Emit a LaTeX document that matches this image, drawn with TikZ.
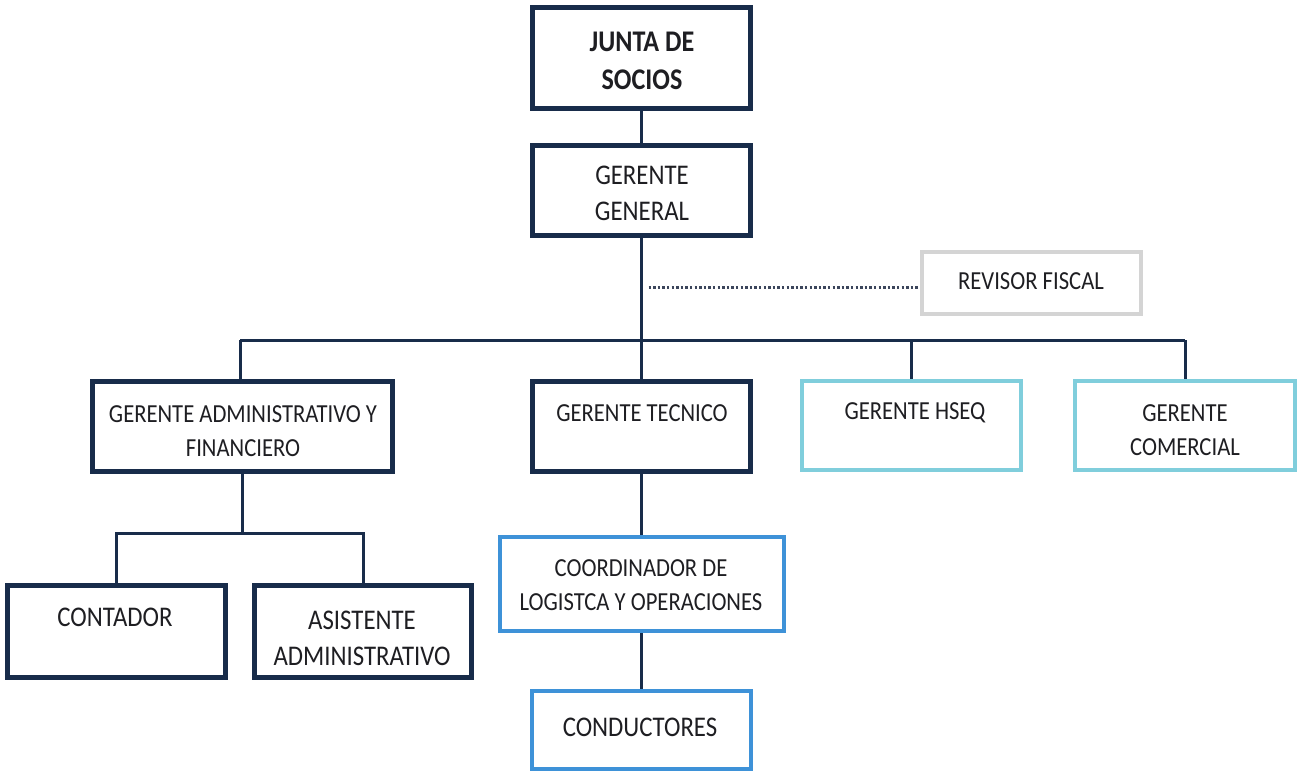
\documentclass[tikz,border=0pt]{standalone}
\usepackage{fontspec}
\setmainfont{Carlito}
\newfontfamily\lblfont{Carlito}[FakeStretch=0.87]
\usetikzlibrary{calc}

\definecolor{navy}{RGB}{24,44,74}
\definecolor{cyanline}{RGB}{128,206,220}
\definecolor{blueline}{RGB}{62,146,216}
\definecolor{greyline}{RGB}{212,212,212}
\definecolor{txtc}{RGB}{30,30,34}
\definecolor{dotc}{RGB}{60,70,92}

\tikzset{
  darkbox/.style={draw=navy, line width=4.5pt, fill=white, inner sep=0pt},
  cyanbox/.style={draw=cyanline, line width=4pt, fill=white, inner sep=0pt},
  bluebox/.style={draw=blueline, line width=4pt, fill=white, inner sep=0pt},
  greybox/.style={draw=greyline, line width=4pt, fill=white, inner sep=0pt},
  boxtext/.style={font=\lblfont\fontsize{26}{34}\selectfont, text=txtc, align=center, inner sep=0pt},
  boxtextbig/.style={font=\lblfont\fontsize{28.5}{36}\selectfont, text=txtc, align=center, inner sep=0pt},
  link/.style={draw=navy, line width=3pt},
  dots/.style={draw=dotc, line width=3pt, dash pattern=on 2.4pt off 2.2pt}
}

\begin{document}
\begin{tikzpicture}[x=1pt, y=-1pt]
\useasboundingbox (0,0) rectangle (1297,772);
\fill[white] (0,0) rectangle (1297,772);

% boxes
\node[darkbox, minimum width=218pt, minimum height=101pt] (junta) at (641.5,58) {};
\node[darkbox, minimum width=218pt, minimum height=90pt] (gengral) at (641.5,190.5) {};
\node[greybox, minimum width=219pt, minimum height=62pt] (revisor) at (1031.5,283) {};
\node[darkbox, minimum width=300pt, minimum height=90pt] (admfin) at (242.5,426.5) {};
\node[darkbox, minimum width=218pt, minimum height=90pt] (tecnico) at (641.5,426.5) {};
\node[cyanbox, minimum width=219pt, minimum height=89pt] (hseq) at (911.5,425.5) {};
\node[cyanbox, minimum width=220pt, minimum height=89pt] (comercial) at (1185,425.5) {};
\node[darkbox, minimum width=218pt, minimum height=92pt] (contador) at (116.5,631.5) {};
\node[darkbox, minimum width=217pt, minimum height=92pt] (asistente) at (363,631.5) {};
\node[bluebox, minimum width=284pt, minimum height=94pt] (coord) at (641.5,584) {};
\node[bluebox, minimum width=219pt, minimum height=78pt] (conductores) at (641.5,730) {};

% box texts
\node[boxtext, font=\lblfont\bfseries\fontsize{30}{38}\selectfont] (tjunta) at (642,61) {JUNTA DE\\SOCIOS};
\node[boxtextbig] (tgengral) at (642,193) {GERENTE\\GENERAL};
\node[boxtext] (trevisor) at (1031,281) {REVISOR FISCAL};
\node[boxtext] (tadmfin) at (243,431) {GERENTE ADMINISTRATIVO Y\\FINANCIERO};
\node[boxtext] (ttecnico) at (642,413) {GERENTE TECNICO};
\node[boxtext] (thseq) at (915,413) {GERENTE HSEQ};
\node[boxtext] (tcomercial) at (1185,430) {GERENTE\\COMERCIAL};
\node[boxtextbig] (tcontador) at (115,617) {CONTADOR};
\node[boxtextbig] (tasistente) at (362,638) {ASISTENTE\\ADMINISTRATIVO};
\node[boxtext] (tcoord) at (641,585) {COORDINADOR DE\\LOGISTCA Y OPERACIONES};
\node[boxtextbig] (tconductores) at (640,727) {CONDUCTORES};

% connectors
\coordinate (busL) at (240,340);
\coordinate (busR) at (1185,340);
\coordinate (subbus) at (242,533);

\draw[link] (junta.south) -- (gengral.north);
\draw[link] (gengral.south) -- (gengral.south |- busL);
\draw[link] (busL) -- (busR);
\draw[link] (busL) -- (busL |- admfin.north);
\draw[link] (tecnico.north |- busL) -- (tecnico.north);
\draw[link] (hseq.north |- busL) -- (hseq.north);
\draw[link] (busR) -- (comercial.north);
\draw[dots] ([xshift=7pt, yshift=-4pt]gengral.south |- revisor.west) -- ([xshift=-2pt, yshift=-4pt]revisor.west);

\draw[link] (admfin.south) -- (admfin.south |- subbus);
\draw[link] (contador.north) -- (contador.north |- subbus) -- (asistente.north |- subbus) -- (asistente.north);

\draw[link] (tecnico.south) -- (coord.north);
\draw[link] (coord.south) -- (conductores.north);
\end{tikzpicture}
\end{document}
